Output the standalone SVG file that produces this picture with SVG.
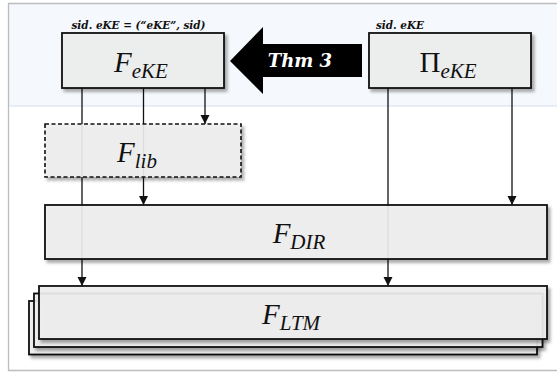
<svg xmlns="http://www.w3.org/2000/svg" width="557" height="373" viewBox="0 0 557 373">
  <style>
    .box { fill: #f0f0f0; fill-opacity: 0.9; stroke: #111; stroke-width: 1.8; }
    .dashed { stroke-dasharray: 4 2.5; stroke-width: 1.6; }
    .conn { fill: none; stroke: #111; stroke-width: 1.3; }
    .math { font-family: "Liberation Serif", "DejaVu Serif", serif; font-style: italic; fill: #111; }
    .up { font-style: normal; }
    .note { font-family: "DejaVu Serif", "Liberation Serif", serif; font-style: italic; font-weight: bold; font-size: 11.5px; fill: #111; }
    .thm { font-family: "DejaVu Serif", "Liberation Serif", serif; font-style: italic; font-weight: bold; font-size: 18px; fill: #fff; }
  </style>
  <defs>
    <filter id="shadow" x="-10%" y="-20%" width="130%" height="150%">
      <feDropShadow dx="2.5" dy="3" stdDeviation="1.6" flood-color="#000" flood-opacity="0.35"/>
    </filter>
    <marker id="arrow" markerUnits="userSpaceOnUse" markerWidth="10" markerHeight="10" refX="9" refY="4.5" orient="auto">
      <path d="M0,0 L9,4.5 L0,9 Z" fill="#111"/>
    </marker>
  </defs>

  <!-- frame (open on the right) and upper band -->
  <rect x="9" y="4" width="548" height="102" fill="#f5f8fc"/>
  <line x1="9" y1="106" x2="557" y2="106" stroke="#d3def0" stroke-width="1.2"/>
  <path d="M557,3.5 H8.5 V370.5 H557" fill="none" stroke="#bdbdbd" stroke-width="1.3"/>

  <!-- connectors -->
  <g id="connectors">
    <line class="conn" x1="82" y1="88" x2="82" y2="286" marker-end="url(#arrow)"/>
    <line class="conn" x1="143.5" y1="88" x2="143.5" y2="205" marker-end="url(#arrow)"/>
    <line class="conn" x1="205" y1="88" x2="205" y2="124" marker-end="url(#arrow)"/>
    <line class="conn" x1="388" y1="88" x2="388" y2="286" marker-end="url(#arrow)"/>
    <line class="conn" x1="512" y1="88" x2="512" y2="205" marker-end="url(#arrow)"/>
  </g>

  <!-- theorem arrow -->
  <g id="thm3">
    <polygon points="230,61 263,27 263,44 362,44 362,77 263,77 263,94" fill="#000"/>
    <text class="thm" x="300" y="67" text-anchor="middle">Thm 3</text>
  </g>

  <g id="FeKE">
    <rect class="box" x="62" y="33" width="162" height="55" filter="url(#shadow)"/>
    <text class="math" x="141" y="72" text-anchor="middle"><tspan font-size="29">F</tspan><tspan font-size="21" dy="6">eKE</tspan></text>
    <text class="note" x="71.5" y="29" textLength="134" lengthAdjust="spacingAndGlyphs">sid. eKE =  (“eKE”, sid)</text>
  </g>

  <g id="PieKE">
    <rect class="box" x="369" y="33" width="162" height="55" filter="url(#shadow)"/>
    <text class="math" x="448" y="72" text-anchor="middle"><tspan class="up" font-size="29">Π</tspan><tspan font-size="21" dy="6">eKE</tspan></text>
    <text class="note" x="376" y="28.5" textLength="48" lengthAdjust="spacingAndGlyphs">sid. eKE</text>
  </g>

  <g id="Flib">
    <rect class="box dashed" x="45" y="124" width="196" height="53" filter="url(#shadow)"/>
    <text class="math" x="137" y="162" text-anchor="middle"><tspan font-size="29">F</tspan><tspan font-size="21" dy="6">lib</tspan></text>
  </g>

  <g id="FDIR">
    <rect class="box" x="45" y="205" width="502" height="54" filter="url(#shadow)"/>
    <text class="math" x="299" y="243" text-anchor="middle"><tspan font-size="29">F</tspan><tspan font-size="21" dy="6">DIR</tspan></text>
  </g>

  <g id="FLTM">
    <rect class="box" x="29" y="301" width="508" height="53.5" filter="url(#shadow)"/>
    <rect class="box" x="34" y="293.5" width="508.5" height="53.5" filter="url(#shadow)"/>
    <rect class="box" x="39" y="286" width="508" height="53" filter="url(#shadow)"/>
    <text class="math" x="291" y="324" text-anchor="middle"><tspan font-size="29">F</tspan><tspan font-size="21" dy="6">LTM</tspan></text>
  </g>
</svg>
